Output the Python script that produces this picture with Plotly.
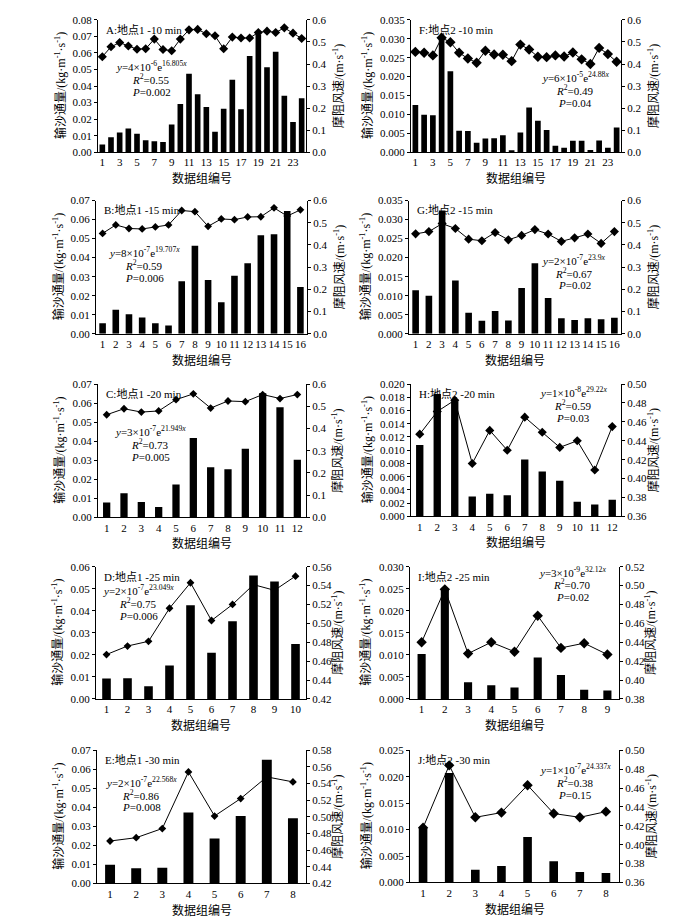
import plotly.graph_objects as go

W, H = 700, 918
FONT = "Liberation Serif, Times New Roman, Noto Sans CJK SC, serif"

# ---------------- data ----------------
titles = ["A:地点1 -10 min", "F:地点2 -10 min", "B:地点1 -15 min", "G:地点2 -15 min",
          "C:地点1 -20 min", "H:地点2 -20 min", "D:地点1 -25 min", "I:地点2 -25 min",
          "E:地点1 -30 min", "J:地点2 -30 min"]

eq_y = ["<i>y</i>=4×10<sup>-6</sup>e<sup>16.805<i>x</i></sup>",
        "<i>y</i>=6×10<sup>-5</sup>e<sup>24.88<i>x</i></sup>",
        "<i>y</i>=8×10<sup>-7</sup>e<sup>19.707<i>x</i></sup>",
        "<i>y</i>=2×10<sup>-7</sup>e<sup>23.9<i>x</i></sup>",
        "<i>y</i>=3×10<sup>-7</sup>e<sup>21.949<i>x</i></sup>",
        "<i>y</i>=1×10<sup>-8</sup>e<sup>29.22<i>x</i></sup>",
        "<i>y</i>=2×10<sup>-7</sup>e<sup>23.049<i>x</i></sup>",
        "<i>y</i>=3×10<sup>-9</sup>e<sup>32.12<i>x</i></sup>",
        "<i>y</i>=2×10<sup>-7</sup>e<sup>22.568<i>x</i></sup>",
        "<i>y</i>=1×10<sup>-7</sup>e<sup>24.337<i>x</i></sup>"]
r2_vals = ["0.55", "0.49", "0.59", "0.67", "0.73", "0.59", "0.75", "0.70", "0.86", "0.38"]
p_vals = ["0.002", "0.04", "0.006", "0.02", "0.005", "0.03", "0.006", "0.02", "0.008", "0.15"]

flux_A = [0.0046, 0.0090, 0.0119, 0.0143, 0.0111, 0.0072, 0.0066, 0.0062, 0.0167, 0.0291,
          0.0474, 0.0350, 0.0273, 0.0123, 0.0263, 0.0438, 0.0259, 0.0581, 0.0712, 0.0513,
          0.0607, 0.0342, 0.0183, 0.0326]
speed_A = [0.433, 0.478, 0.497, 0.482, 0.467, 0.469, 0.513, 0.466, 0.460, 0.513,
           0.555, 0.557, 0.537, 0.528, 0.469, 0.522, 0.518, 0.518, 0.543, 0.549,
           0.543, 0.564, 0.540, 0.516]

flux_F = [0.0125, 0.0099, 0.0098, 0.0306, 0.0214, 0.0057, 0.0056, 0.0025, 0.0036, 0.0037,
          0.0045, 0.0005, 0.0052, 0.0118, 0.0083, 0.0059, 0.0017, 0.0012, 0.0030, 0.0030,
          0.0006, 0.0031, 0.0012, 0.0065]
speed_F = [0.455, 0.451, 0.439, 0.519, 0.499, 0.451, 0.425, 0.406, 0.460, 0.443,
           0.442, 0.413, 0.488, 0.466, 0.433, 0.431, 0.439, 0.434, 0.452, 0.421,
           0.400, 0.473, 0.445, 0.410]

flux_B = [0.0055, 0.0126, 0.0102, 0.0085, 0.0055, 0.0043, 0.0276, 0.0463, 0.0282, 0.0165,
          0.0305, 0.0371, 0.0518, 0.0523, 0.0645, 0.0246]
speed_B = [0.452, 0.490, 0.474, 0.472, 0.481, 0.490, 0.555, 0.550, 0.484, 0.517,
           0.514, 0.526, 0.527, 0.567, 0.530, 0.558]

flux_G = [0.0114, 0.0100, 0.0324, 0.0140, 0.0055, 0.0034, 0.0060, 0.0035, 0.0120, 0.0185,
          0.0094, 0.0041, 0.0036, 0.0041, 0.0038, 0.0042]
speed_G = [0.450, 0.460, 0.496, 0.474, 0.426, 0.419, 0.456, 0.423, 0.443, 0.469,
           0.449, 0.416, 0.432, 0.449, 0.407, 0.460]

flux_C = [0.0078, 0.0126, 0.0080, 0.0054, 0.0173, 0.0417, 0.0263, 0.0252, 0.0360, 0.0652,
          0.0579, 0.0302]
speed_C = [0.462, 0.489, 0.474, 0.479, 0.530, 0.556, 0.492, 0.524, 0.521, 0.553,
           0.535, 0.553]

flux_H = [0.0108, 0.0185, 0.0174, 0.0030, 0.0034, 0.0032, 0.0086, 0.0068, 0.0054, 0.0022,
          0.0018, 0.0025]
speed_H = [0.447, 0.471, 0.483, 0.416, 0.451, 0.430, 0.465, 0.449, 0.433, 0.440,
           0.409, 0.455]

flux_D = [0.0093, 0.0094, 0.0057, 0.0152, 0.0425, 0.0210, 0.0352, 0.0560, 0.0533, 0.0249]
speed_D = [0.467, 0.476, 0.481, 0.516, 0.543, 0.503, 0.520, 0.541, 0.535, 0.550]

flux_I = [0.0102, 0.0249, 0.0038, 0.0031, 0.0026, 0.0094, 0.0054, 0.0021, 0.0019]
speed_I = [0.440, 0.496, 0.428, 0.440, 0.430, 0.468, 0.434, 0.439, 0.427]

flux_E = [0.0099, 0.0080, 0.0083, 0.0373, 0.0236, 0.0355, 0.0650, 0.0343]
speed_E = [0.471, 0.475, 0.486, 0.554, 0.501, 0.522, 0.548, 0.542]

flux_J = [0.0102, 0.0207, 0.0024, 0.0031, 0.0086, 0.0040, 0.0020, 0.0018]
speed_J = [0.418, 0.484, 0.429, 0.434, 0.463, 0.433, 0.429, 0.435]

fluxes = [flux_A, flux_F, flux_B, flux_G, flux_C, flux_H, flux_D, flux_I, flux_E, flux_J]
speeds = [speed_A, speed_F, speed_B, speed_G, speed_C, speed_H, speed_D, speed_I, speed_E, speed_J]

# ---------------- geometry / style ----------------
# plot-area pixel boxes (left, right, top, bottom)
boxes = [(90, 298, 6, 140), (403, 613, 6, 140),
         (88, 299, 189, 324), (401, 613, 189, 324),
         (90, 298, 375, 510), (403, 613, 375, 509),
         (88, 298, 560, 694), (402, 611, 560, 694),
         (89, 298, 746, 881), (402, 611, 746, 880)]
left_axes = [((0, 0.08), 0.01, ".2f"), ((0, 0.035), 0.005, ".3f"),
             ((0, 0.07), 0.01, ".2f"), ((0, 0.035), 0.005, ".3f"),
             ((0, 0.07), 0.01, ".2f"), ((0, 0.020), 0.002, ".3f"),
             ((0, 0.06), 0.01, ".2f"), ((0, 0.030), 0.005, ".3f"),
             ((0, 0.07), 0.01, ".2f"), ((0, 0.025), 0.005, ".3f")]
right_axes = [((0, 0.6), 0.1, ".1f"), ((0, 0.6), 0.1, ".1f"),
              ((0, 0.6), 0.1, ".1f"), ((0, 0.6), 0.1, ".1f"),
              ((0, 0.6), 0.1, ".1f"), ((0.36, 0.50), 0.02, ".2f"),
              ((0.42, 0.56), 0.02, ".2f"), ((0.38, 0.52), 0.02, ".2f"),
              ((0.42, 0.58), 0.02, ".2f"), ((0.36, 0.50), 0.02, ".2f")]
bar_widths = [0.65, 0.65, 0.5, 0.5, 0.42, 0.42, 0.41, 0.35, 0.38, 0.33]
marker_sizes = [7, 8, 6, 7, 6, 7, 6, 8, 6, 8]
xtick_steps = [2, 2, 1, 1, 1, 1, 1, 1, 1, 1]
# equation block centre (x px, y px of first line)
eq_pos = [(143, 53), (567, 64), (136, 241), (566, 249), (142, 423),
          (565, 383), (130, 584), (564, 565), (133, 778), (567, 765)]
line_gap = 13


def fx(p):
    return p / W


def fy(p):
    return 1 - p / H


fig = go.Figure()
layout = dict(
    width=W, height=H, margin=dict(l=0, r=0, t=0, b=0),
    paper_bgcolor="white", plot_bgcolor="white",
    font=dict(family=FONT, size=11, color="black"),
    showlegend=False,
)
annotations = []

for k in range(10):
    n = k + 1
    xa = "x" if n == 1 else f"x{n}"
    yb = "y" if n == 1 else f"y{n}"
    yl = f"y{n + 10}"
    L, R, T, B = boxes[k]
    flux = fluxes[k]
    spd = speeds[k]
    ids = list(range(1, len(flux) + 1))

    fig.add_trace(go.Scatter(x=ids, y=spd, xaxis=xa, yaxis=yl, mode="lines+markers",
                             line=dict(color="black", width=1),
                             marker=dict(symbol="diamond", size=marker_sizes[k], color="black")))
    fig.add_trace(go.Bar(x=ids, y=flux, xaxis=xa, yaxis=yb, width=bar_widths[k],
                         marker=dict(color="black", line=dict(width=0))))

    tv = ids[::xtick_steps[k]]
    layout["xaxis" if n == 1 else f"xaxis{n}"] = dict(
        domain=[fx(L), fx(R)], anchor=yl, range=[0.5, len(flux) + 0.5],
        tickmode="array", tickvals=tv, ticktext=[str(v) for v in tv], tickangle=0,
        showline=True, linecolor="black", linewidth=1, ticks="", showgrid=False,
        zeroline=False, tickfont=dict(size=11), fixedrange=True)
    (lr, ldt, lfmt) = left_axes[k]
    (rr, rdt, rfmt) = right_axes[k]
    layout[f"yaxis{n + 10}"] = dict(
        domain=[fy(B), fy(T)], anchor=xa, side="right", range=list(rr), dtick=rdt,
        tick0=rr[0], tickformat=rfmt, showline=True, linecolor="black", linewidth=1,
        ticks="outside", ticklen=3, tickcolor="black", showgrid=False, zeroline=False,
        tickfont=dict(size=11))
    layout["yaxis" if n == 1 else f"yaxis{n}"] = dict(
        overlaying=yl, anchor=xa, side="left", range=list(lr), dtick=ldt, tick0=0,
        tickformat=lfmt, showline=True, linecolor="black", linewidth=1,
        ticks="outside", ticklen=3, tickcolor="black", showgrid=False, zeroline=False,
        tickfont=dict(size=11))

    xc = (L + R) / 2
    yc = (T + B) / 2
    # panel title
    annotations.append(dict(text=titles[k], x=fx(L + 6), y=fy(T + 10), xref="paper", yref="paper",
                            xanchor="left", yanchor="middle", showarrow=False,
                            font=dict(size=11)))
    # equation block
    ex, ey = eq_pos[k]
    for j, t in enumerate([eq_y[k], f"<i>R</i><sup>2</sup>={r2_vals[k]}", f"<i>P</i>={p_vals[k]}"]):
        annotations.append(dict(text=t, x=fx(ex), y=fy(ey + j * line_gap), xref="paper", yref="paper",
                                xanchor="center", yanchor="middle", showarrow=False,
                                font=dict(size=11)))
    # axis titles
    loff = 38 if lfmt == ".2f" else 44
    annotations.append(dict(text="输沙通量/(kg·m<sup>-1</sup>·s<sup>-1</sup>)", x=fx(L - loff), y=fy(yc),
                            xref="paper", yref="paper", xanchor="center", yanchor="middle",
                            textangle=-90, showarrow=False, font=dict(size=12)))
    annotations.append(dict(text="摩阻风速/(m·s<sup>-1</sup>)", x=fx(R + 32), y=fy(yc),
                            xref="paper", yref="paper", xanchor="center", yanchor="middle",
                            textangle=-90, showarrow=False, font=dict(size=12)))
    annotations.append(dict(text="数据组编号", x=fx(xc), y=fy(B + 27), xref="paper", yref="paper",
                            xanchor="center", yanchor="middle", showarrow=False,
                            font=dict(size=12)))

layout["annotations"] = annotations
fig.update_layout(**layout)
fig.write_html("out.html")
